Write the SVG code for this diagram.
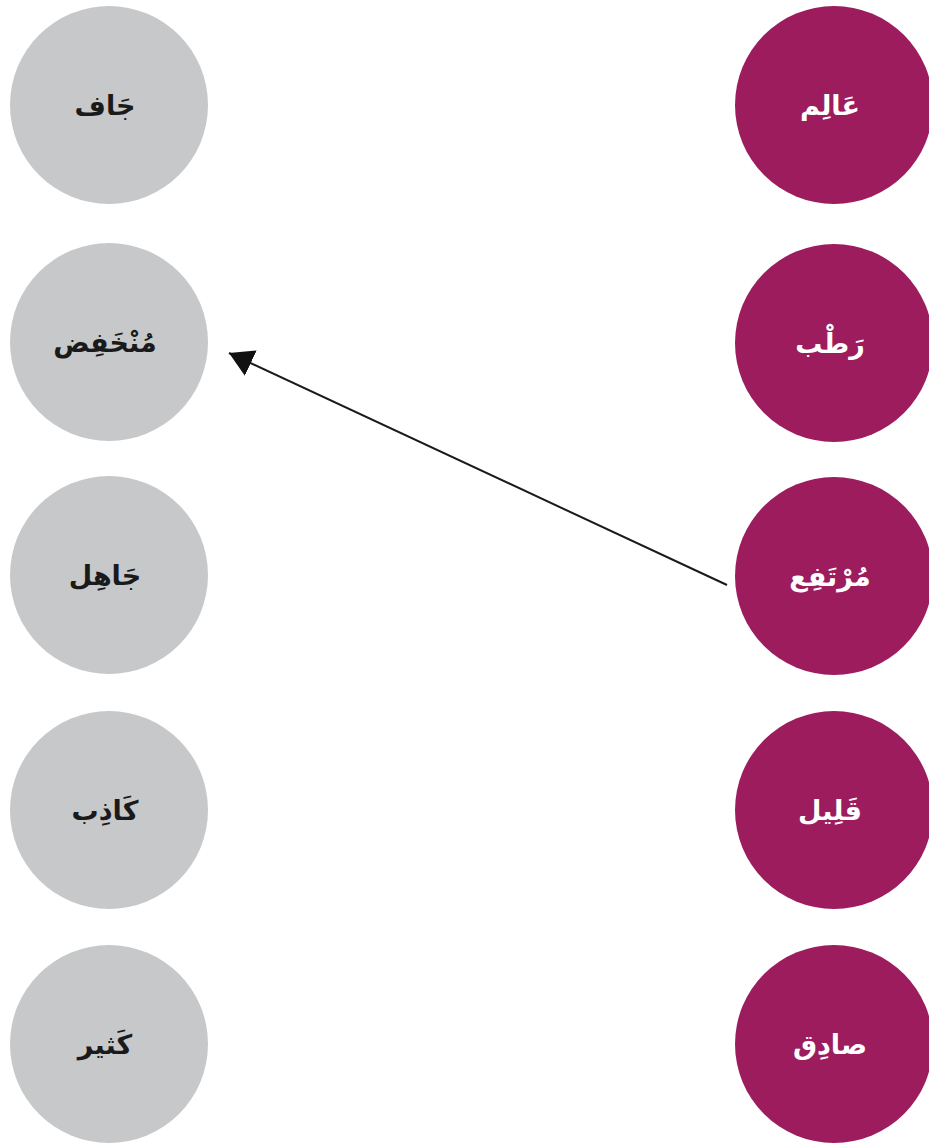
<svg xmlns="http://www.w3.org/2000/svg" width="929" height="1148" viewBox="0 0 929 1148">
<style>
.g{fill:#c7c8ca}
.p{fill:#9c1c5e}
.t{font-family:"DejaVu Sans","Noto Sans",sans-serif;font-weight:bold;font-size:27px;text-anchor:middle}
.tg{fill:#1a1a1a}
.tp{fill:#ffffff}
.conn{stroke:#1a1a1a;stroke-width:2;fill:none}
</style>
<defs>
<marker id="ah" markerUnits="userSpaceOnUse" markerWidth="26" markerHeight="30" refX="24" refY="14" orient="auto">
<path d="M0,0 L24,14 L0,28 Z" fill="#111"/>
</marker>
</defs>
<rect width="929" height="1148" fill="#ffffff"/>
<g id="l1"><circle class="g" cx="109" cy="105" r="99"/><text class="t tg" x="105" y="115" direction="rtl">جَاف</text></g>
<g id="l2"><circle class="g" cx="109" cy="342" r="99"/><text class="t tg" x="105" y="352" direction="rtl">مُنْخَفِض</text></g>
<g id="l3"><circle class="g" cx="109" cy="575" r="99"/><text class="t tg" x="105" y="585" direction="rtl">جَاهِل</text></g>
<g id="l4"><circle class="g" cx="109" cy="810" r="99"/><text class="t tg" x="105" y="820" direction="rtl">كَاذِب</text></g>
<g id="l5"><circle class="g" cx="109" cy="1044" r="99"/><text class="t tg" x="105" y="1054" direction="rtl">كَثير</text></g>
<g id="r1"><circle class="p" cx="834" cy="105" r="99"/><text class="t tp" x="830" y="115" direction="rtl">عَالِم</text></g>
<g id="r2"><circle class="p" cx="834" cy="343" r="99"/><text class="t tp" x="830" y="353" direction="rtl">رَطْب</text></g>
<g id="r3"><circle class="p" cx="834" cy="576" r="99"/><text class="t tp" x="830" y="586" direction="rtl">مُرْتَفِع</text></g>
<g id="r4"><circle class="p" cx="834" cy="810" r="99"/><text class="t tp" x="830" y="820" direction="rtl">قَلِيل</text></g>
<g id="r5"><circle class="p" cx="834" cy="1044" r="99"/><text class="t tp" x="830" y="1054" direction="rtl">صادِق</text></g>
<g id="connectors">
<line class="conn" x1="727" y1="585" x2="229" y2="353" marker-end="url(#ah)"/>
</g>
</svg>
